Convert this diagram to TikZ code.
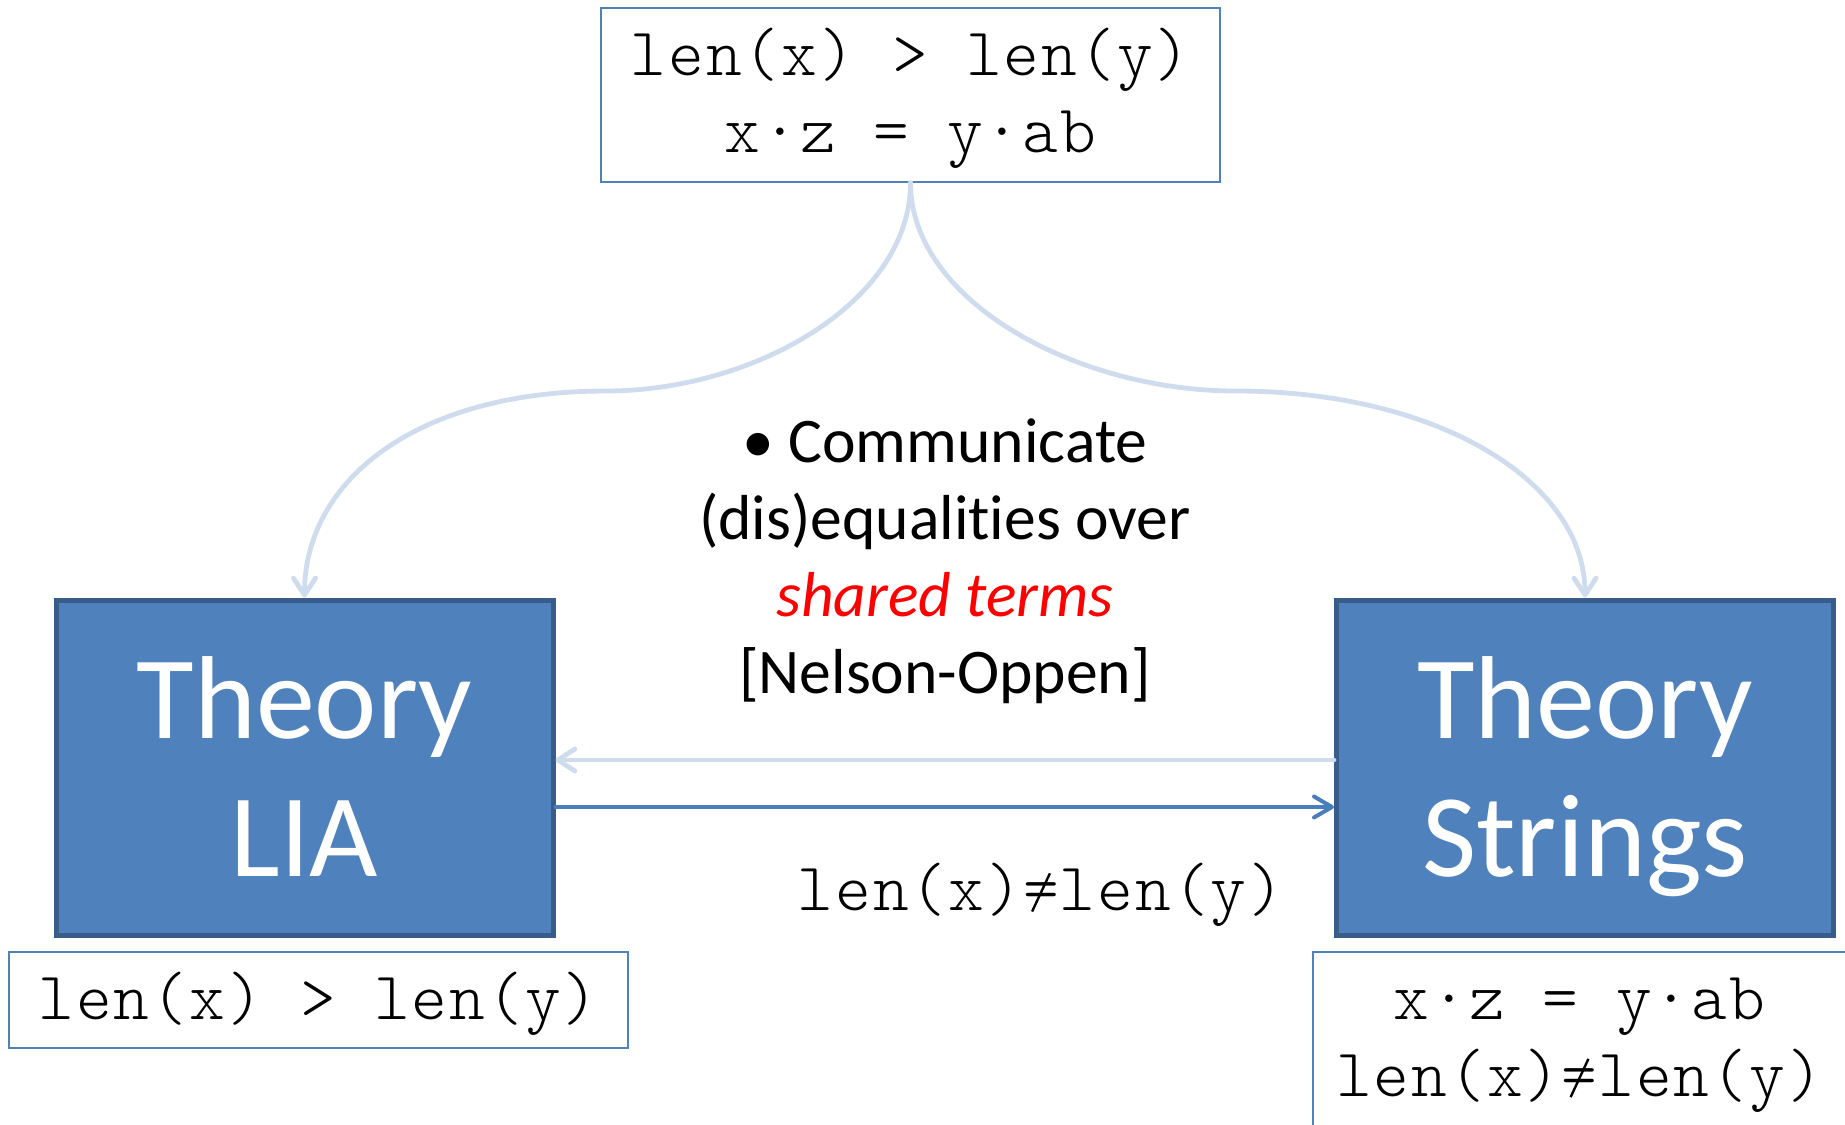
\documentclass[tikz,border=0pt]{standalone}
\usepackage{fontspec}
\usepackage{graphicx}
\setmainfont{Carlito}[Ligatures=NoCommon]
\newfontfamily\monofont{lmmonolt10-regular}[Extension=.otf,LetterSpace=3]
\usetikzlibrary{arrows.meta}

\definecolor{theoryfill}{RGB}{79,129,189}
\definecolor{theoryedge}{RGB}{56,93,138}
\definecolor{boxedge}{RGB}{79,129,189}
\definecolor{softblue}{RGB}{206,220,237}
\definecolor{strongblue}{RGB}{74,126,187}

% "not equal" sign: the typewriter "=" crossed by a thin slanted rule
\newcommand{\tneq}{\makebox[0.555em][c]{=}\hspace{-0.555em}%
  \makebox[0.555em][c]{\raisebox{-0.02em}{\rotatebox{65}{\rule{0.62em}{0.035em}}}}}

\tikzset{
  theorybox/.style={draw=theoryedge, fill=theoryfill, line width=2.5pt,
    inner sep=0pt, minimum width=248.5pt, minimum height=167.5pt},
  theorylabel/.style={text=white, align=center, inner sep=0pt,
    font=\fontsize{59}{69}\selectfont},
  formulabox/.style={draw=boxedge, fill=white, line width=0.8pt, inner sep=0pt},
  formulatext/.style={align=center, inner sep=0pt,
    font=\monofont\fontsize{34}{38.5}\selectfont},
  softline/.style={draw=softblue, line width=2.4pt, line cap=round,
    -{Straight Barb[length=8.5pt,width=11pt,line width=2.4pt,round]}},
  strongline/.style={draw=strongblue, line width=2pt, line cap=round,
    -{Straight Barb[length=9pt,width=10.5pt,line width=2pt,round]}},
}

\begin{document}
\begin{tikzpicture}[x=0.5pt,y=-0.5pt]
  \useasboundingbox (0,0) rectangle (1845,1124);
  \clip (0,0) rectangle (1845,1124);

  % shared constraints
  \node[formulabox, minimum width=309.5pt, minimum height=87pt] (top) at (910.5,95) {};
  \node[formulatext] (toptext) at ([yshift=-1.75pt]top.center)
    {len(x) > len(y)\\x·z = y·ab};

  % the two theory solvers
  \node[theorybox] (lia) at (304.5,767.5) {};
  \node[theorybox] (str) at (1585,767.5) {};
  \node[theorylabel] (lialabel) at ([yshift=-4.5pt]lia.center) {Theory\\LIA\vphantom{g}};
  \node[theorylabel] (strlabel) at ([yshift=-4.5pt]str.center) {Theory\\Strings};

  % local constraint stores
  \node[formulabox, minimum width=309.5pt, minimum height=48pt] (liaset) at (318.5,1000) {};
  \node[formulatext] (liasettext) at ([yshift=-2pt]liaset.center) {len(x) > len(y)};
  \node[formulabox, minimum width=268.5pt, minimum height=89pt] (strset) at (1581.5,1041) {};
  \node[formulatext] (strsettext) at ([xshift=-1pt,yshift=-2pt]strset.center)
    {x·z = y·ab\\len(x)\tneq len(y)};

  % explanation in the middle
  \node[align=center, inner sep=0pt, font=\fontsize{31.8}{38.5}\selectfont] (note) at (945,561)
    {• Communicate\\(dis)equalities over\\{\color{red}\itshape shared terms}\\{[}Nelson-Oppen{]}};

  \node[formulatext] (eqlabel) at (1041,895) {len(x)\tneq len(y)};

  % split of the input constraints
  \coordinate (lmid) at (606,391);
  \coordinate (rmid) at (1236,391);
  \draw[softline] (top.south) .. controls +(0,118) and +(150,0) .. (lmid)
    .. controls +(-190,0) and +(0,-117) .. (lia.north);
  \draw[softline] (top.south) .. controls +(0,118) and +(-160,0) .. (rmid)
    .. controls +(200,0) and +(0,-117) .. (str.north);

  % exchange between the solvers
  \draw[softline] ([yshift=3.75pt]str.west) -- ([yshift=3.75pt]lia.east);
  \draw[strongline] ([yshift=-19.75pt]lia.east) -- ([yshift=-19.75pt]str.west);
\end{tikzpicture}
\end{document}
